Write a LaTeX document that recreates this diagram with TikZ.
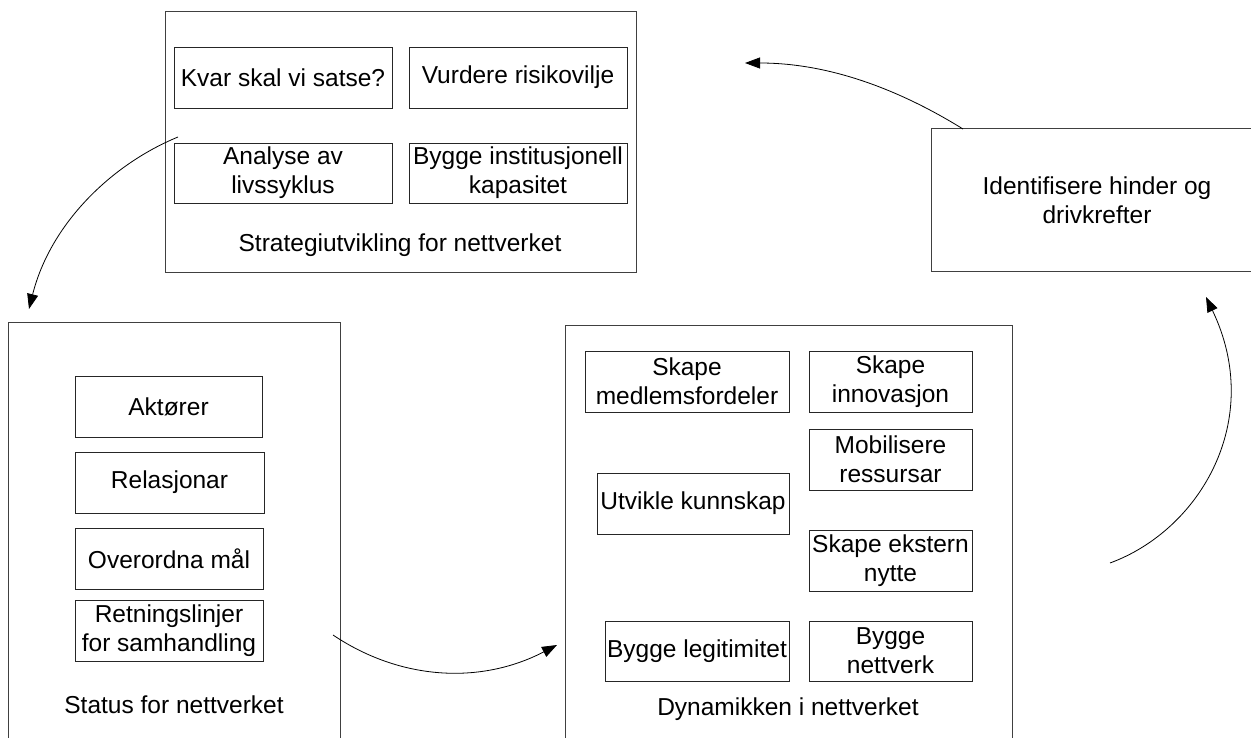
\documentclass[tikz,border=0pt]{standalone}
\usepackage{fontspec}
\setmainfont{Liberation Sans}
\usetikzlibrary{arrows.meta}
\begin{document}
\begin{tikzpicture}[x=1pt,y=-1pt,
  every node/.style={font=\fontsize{24.5}{29}\selectfont, inner sep=0pt, align=center},
  frame/.style={draw=black!75, line width=1pt},
  ibox/.style={draw=black!85, line width=0.9pt},
  flow/.style={line width=0.8pt, -{Triangle[length=15pt,width=11pt]}},
  caption/.style={}]
\useasboundingbox (0,0) rectangle (1251,738);
\clip (0,0) rectangle (1251,738);

% Strategy development
\node[frame, minimum width=471, minimum height=261] (strat) at (400.5,142.5) {};
\node[ibox, minimum width=218, minimum height=61] (kvar) at (283,77.5) {Kvar skal vi satse?};
\node[ibox, minimum width=218, minimum height=61] (risk) at (518,77.5) {Vurdere risikovilje};
\node[ibox, minimum width=218, minimum height=60] (life) at (283,173) {Analyse av\\livssyklus};
\node[ibox, minimum width=218, minimum height=60] (inst) at (518,173) {Bygge institusjonell\\kapasitet};
\node[caption] (stratlbl) at (400,245) {Strategiutvikling for nettverket};

% Network status
\node[frame, minimum width=332, minimum height=440] (status) at (174,542) {};
\node[ibox, minimum width=187, minimum height=61] (akt) at (168.5,406.5) {Aktører};
\node[ibox, minimum width=189, minimum height=61] (rel) at (169.5,482.5) {Relasjonar};
\node[ibox, minimum width=188, minimum height=61] (maal) at (169,558.5) {Overordna mål};
\node[ibox, minimum width=188, minimum height=61] (ret) at (169,630.5) {Retningslinjer\\for samhandling};
\node[caption] (statuslbl) at (174,705) {Status for nettverket};

% Network dynamics
\node[frame, minimum width=447, minimum height=440] (dyn) at (788.5,545) {};
\node[ibox, minimum width=204, minimum height=61] (medl) at (687,381.5) {Skape\\medlemsfordeler};
\node[ibox, minimum width=163, minimum height=61] (inno) at (890.5,381.5) {Skape\\innovasjon};
\node[ibox, minimum width=163, minimum height=61] (mob) at (890.5,459.5) {Mobilisere\\ressursar};
\node[ibox, minimum width=192, minimum height=61] (kunn) at (693,503.5) {Utvikle kunnskap};
\node[ibox, minimum width=163, minimum height=61] (ekst) at (890.5,560.5) {Skape ekstern\\nytte};
\node[ibox, minimum width=184, minimum height=60] (legit) at (697,651) {Bygge legitimitet};
\node[ibox, minimum width=163, minimum height=60] (nett) at (890.5,651) {Bygge\\nettverk};
\node[caption] (dynlbl) at (788,709) {Dynamikken i nettverket};

% Barriers and drivers
\node[frame, minimum width=332, minimum height=143] (hind) at (1097,200.5) {Identifisere hinder og\\drivkrefter};

% Cycle arrows
\coordinate (s1) at (178,137);
\coordinate (e1) at (29,309);
\coordinate (s2) at (333,635);
\coordinate (e2) at (557,645);
\coordinate (s3) at (1110,563);
\coordinate (e3) at (1206,297);
\coordinate (s4) at (963,129);
\coordinate (e4) at (745,63);

\draw[flow] (s1) .. controls (110,165) and (50,225) .. (e1);
\draw[flow] (s2) .. controls (400,680) and (480,685) .. (e2);
\draw[flow] (s3) .. controls (1200,530) and (1265,420) .. (e3);
\draw[flow] (s4) .. controls (900,90) and (830,63) .. (e4);
\end{tikzpicture}
\end{document}
